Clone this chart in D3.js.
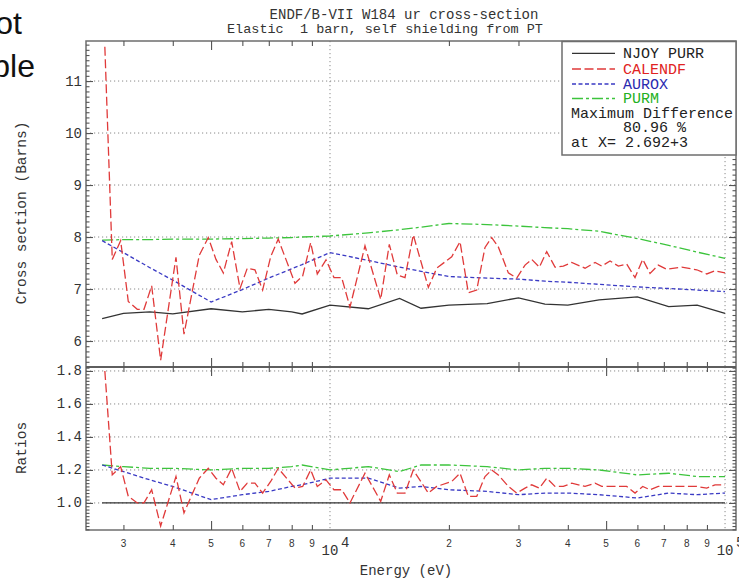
<!DOCTYPE html>
<html><head><meta charset="utf-8">
<script src="https://cdn.jsdelivr.net/npm/d3@7"></script>
<style>
html,body{margin:0;padding:0;background:#fff;}
svg{display:block;}
text{font-family:"Liberation Mono","DejaVu Sans Mono",monospace;fill:#333;}
</style></head><body>
<svg id="chart" width="739" height="580"></svg>
<script>
// Energy grid (eV) shared by NJOY PURR, AUROX and PURM
const energyGrid = [2650, 3000, 3500, 4000, 5000, 6000, 7000, 8000, 8500, 10000, 12500, 15000, 17000, 20000, 25000, 30000, 35000, 40000, 48000, 60000, 72000, 85000, 100000];
const njoyXs  = [6.43, 6.53, 6.56, 6.52, 6.62, 6.56, 6.61, 6.56, 6.52, 6.69, 6.62, 6.82, 6.63, 6.69, 6.72, 6.83, 6.71, 6.69, 6.79, 6.85, 6.66, 6.69, 6.53];
const auroxXs = [7.93, 7.70, 7.41, 7.17, 6.75, 6.99, 7.21, 7.39, 7.47, 7.70, 7.55, 7.42, 7.34, 7.24, 7.21, 7.19, 7.15, 7.13, 7.09, 7.04, 7.01, 6.98, 6.95];
const purmXs  = [7.94, 7.95, 7.95, 7.96, 7.96, 7.97, 7.98, 7.99, 8.00, 8.02, 8.08, 8.14, 8.19, 8.26, 8.24, 8.21, 8.18, 8.16, 8.11, 7.97, 7.84, 7.71, 7.59];
const njoyRatio  = [1, 1, 1, 1, 1, 1, 1, 1, 1, 1, 1, 1, 1, 1, 1, 1, 1, 1, 1, 1, 1, 1, 1];
const auroxRatio = [1.23, 1.19, 1.14, 1.10, 1.02, 1.05, 1.07, 1.10, 1.11, 1.15, 1.15, 1.09, 1.10, 1.08, 1.07, 1.05, 1.06, 1.06, 1.05, 1.03, 1.06, 1.05, 1.06];
const purmRatio  = [1.23, 1.22, 1.21, 1.21, 1.20, 1.21, 1.21, 1.22, 1.23, 1.20, 1.22, 1.19, 1.23, 1.23, 1.22, 1.20, 1.21, 1.21, 1.20, 1.17, 1.18, 1.16, 1.16];

// CALENDF has its own, finer energy grid
const calendfE = [2692, 2811, 2952, 3086, 3252, 3382, 3537, 3727, 4075, 4270,
  4668, 4920, 5145, 5370, 5638, 5920, 6175, 6457, 6753, 7077,
  7397, 8154, 8529, 8935, 9286, 9770, 10235, 10706, 11235, 12263,
  13440, 14130, 14806, 15484, 16251, 17741, 18629, 20331, 21337, 22395,
  23520, 24683, 25669, 26674, 28280, 29700, 31170, 32410, 33880, 35370,
  37120, 38960, 40920, 44220, 46880, 48740, 51160, 53700, 56380, 59180,
  61890, 64580, 67770, 71180, 77690, 84790, 89880, 94340, 100000];
const calendfXs = [11.66, 7.57, 7.93, 6.76, 6.61, 6.61, 7.06, 5.63, 7.61, 6.13,
  7.65, 7.99, 7.57, 7.31, 7.91, 7.01, 7.40, 7.37, 6.98, 7.62,
  7.96, 7.11, 7.25, 7.89, 7.29, 7.56, 7.22, 7.22, 6.65, 7.83,
  6.80, 7.86, 7.27, 7.22, 8.04, 7.03, 7.40, 7.62, 7.91, 6.93,
  6.98, 7.80, 7.99, 7.81, 7.31, 7.21, 7.46, 7.57, 7.42, 7.72,
  7.42, 7.44, 7.51, 7.40, 7.51, 7.44, 7.54, 7.44, 7.48, 7.22,
  7.57, 7.30, 7.46, 7.38, 7.42, 7.37, 7.29, 7.35, 7.31];
const calendfRatio = [1.80, 1.17, 1.22, 1.04, 1.00, 1.00, 1.08, 0.86, 1.16, 0.94,
  1.15, 1.21, 1.15, 1.11, 1.21, 1.07, 1.12, 1.12, 1.06, 1.13,
  1.21, 1.09, 1.10, 1.20, 1.10, 1.14, 1.08, 1.08, 1.00, 1.18,
  1.01, 1.17, 1.06, 1.06, 1.20, 1.06, 1.10, 1.13, 1.18, 1.04,
  1.04, 1.16, 1.20, 1.17, 1.10, 1.06, 1.09, 1.11, 1.09, 1.15,
  1.10, 1.10, 1.12, 1.10, 1.12, 1.10, 1.10, 1.10, 1.10, 1.06,
  1.10, 1.08, 1.10, 1.10, 1.10, 1.10, 1.09, 1.11, 1.11];

// Tick values and labels
const xMinorTicks = [3000, 4000, 6000, 7000, 8000, 9000, 20000, 30000, 40000, 60000, 70000, 80000, 90000];
const xMidTicks = [5000, 50000];
const xLabelValues = [3000, 4000, 5000, 6000, 7000, 8000, 9000, 20000, 30000, 40000, 50000, 60000, 70000, 80000, 90000];
const xLabelText = ["3", "4", "5", "6", "7", "8", "9", "2", "3", "4", "5", "6", "7", "8", "9"];
const xDecades = [10000, 100000];
const xDecadeExp = ["4", "5"];
const yUpperTicks = [6, 7, 8, 9, 10, 11];
const yLowerTicks = [1.0, 1.2, 1.4, 1.6, 1.8];
const yLowerText = ["1.0", "1.2", "1.4", "1.6", "1.8"];

const seriesNames = ["NJOY PURR", "CALENDF", "AUROX", "PURM"];
const lineColors = ["#333333", "#e03a3a", "#3a3ac4", "#3cc43c"];
const textColors = ["#222222", "#e02222", "#2a2ab0", "#22b022"];
const dashes = [null, "9,3.5", "4,2.5", "11,3,3,3"];

const svg = d3.select("#chart");
const L = 86, R = 736, T1 = 41, B1 = 367, T2 = 367, B2 = 530;
const x = d3.scaleLog().domain([2412, 106600]).range([L, R]);
const yU = d3.scaleLinear().domain([5.5, 11.77]).range([B1, T1]);
const yL = d3.scaleLinear().domain([0.836, 1.824]).range([B2, T2]);

const defs = svg.append("defs");
defs.append("clipPath").attr("id", "clipU").append("rect").attr("x", L).attr("y", T1).attr("width", R - L).attr("height", B1 - T1);
defs.append("clipPath").attr("id", "clipL").append("rect").attr("x", L).attr("y", T2).attr("width", R - L).attr("height", B2 - T2);

// slide text fragments at the top-left
svg.append("text").attr("x", 22).attr("y", 34).attr("text-anchor", "end")
  .style("font-family", "'Liberation Sans',Arial,sans-serif").style("font-size", "32px").style("fill", "#111").text("ot");
svg.append("text").attr("x", 35).attr("y", 77).attr("text-anchor", "end")
  .style("font-family", "'Liberation Sans',Arial,sans-serif").style("font-size", "32px").style("fill", "#111").text("ble");

// title
svg.append("text").attr("x", 404).attr("y", 19).attr("text-anchor", "middle").style("font-size", "14px")
  .text("ENDF/B-VII W184 ur cross-section");
svg.append("text").attr("x", 385).attr("y", 33).attr("text-anchor", "middle").style("font-size", "13.5px")
  .attr("xml:space", "preserve").style("white-space", "pre")
  .text("Elastic  1 barn, self shielding from PT");

// dotted grid
const grid = svg.append("g").attr("stroke", "#8a8a8a").attr("stroke-width", 1).attr("stroke-dasharray", "1.2,2.8").attr("fill", "none");
yUpperTicks.forEach(v => grid.append("line").attr("x1", L).attr("x2", R).attr("y1", yU(v)).attr("y2", yU(v)));
yLowerTicks.forEach(v => grid.append("line").attr("x1", L).attr("x2", R).attr("y1", yL(v)).attr("y2", yL(v)));
xDecades.forEach(v => {
  grid.append("line").attr("x1", x(v)).attr("x2", x(v)).attr("y1", T1).attr("y2", B1);
  grid.append("line").attr("x1", x(v)).attr("x2", x(v)).attr("y1", T2).attr("y2", B2);
});

// data lines
function drawSeries(g, es, vs, yScale, i) {
  const line = d3.line().x(d => x(d[0])).y(d => yScale(d[1]));
  g.append("path").datum(es.map((e, k) => [e, vs[k]]))
    .attr("d", line).attr("fill", "none").attr("stroke", lineColors[i])
    .attr("stroke-width", 1.3).attr("stroke-dasharray", dashes[i]);
}
const gU = svg.append("g").attr("clip-path", "url(#clipU)");
drawSeries(gU, energyGrid, njoyXs, yU, 0);
drawSeries(gU, energyGrid, purmXs, yU, 3);
drawSeries(gU, energyGrid, auroxXs, yU, 2);
drawSeries(gU, calendfE, calendfXs, yU, 1);
const gL = svg.append("g").attr("clip-path", "url(#clipL)");
drawSeries(gL, energyGrid, njoyRatio, yL, 0);
drawSeries(gL, energyGrid, purmRatio, yL, 3);
drawSeries(gL, energyGrid, auroxRatio, yL, 2);
drawSeries(gL, calendfE, calendfRatio, yL, 1);

// frames
svg.append("rect").attr("x", L).attr("y", T1).attr("width", R - L).attr("height", B2 - T1)
  .attr("fill", "none").attr("stroke", "#6e6e6e").attr("stroke-width", 1.5);
svg.append("line").attr("x1", L).attr("x2", R).attr("y1", B1).attr("y2", B1)
  .attr("stroke", "#5e5e5e").attr("stroke-width", 2.2);

// tick marks drawn with d3 axes
function ticks(axis, tx, ty) {
  const g = svg.append("g").attr("transform", `translate(${tx},${ty})`).call(axis);
  g.select(".domain").remove();
  g.selectAll("line").attr("stroke", "#555").attr("stroke-width", 1.1);
  g.selectAll("text").remove();
}
[[d3.axisBottom, T1], [d3.axisTop, B1], [d3.axisBottom, T2], [d3.axisTop, B2]].forEach(([ax, yy]) => {
  ticks(ax(x).tickValues(xMinorTicks).tickSize(5), 0, yy);
  ticks(ax(x).tickValues(xMidTicks).tickSize(9), 0, yy);
});
const yUMinor = d3.range(56, 118).map(v => v / 10);
const yLMinor = d3.range(42, 92).map(v => v / 50);
ticks(d3.axisRight(yU).tickValues(yUMinor).tickSize(3.5), L, 0);
ticks(d3.axisRight(yU).tickValues(yUpperTicks).tickSize(7), L, 0);
ticks(d3.axisLeft(yU).tickValues(yUMinor).tickSize(3.5), R, 0);
ticks(d3.axisLeft(yU).tickValues(yUpperTicks).tickSize(7), R, 0);
ticks(d3.axisRight(yL).tickValues(yLMinor).tickSize(3.5), L, 0);
ticks(d3.axisRight(yL).tickValues(yLowerTicks).tickSize(7), L, 0);
ticks(d3.axisLeft(yL).tickValues(yLMinor).tickSize(3.5), R, 0);
ticks(d3.axisLeft(yL).tickValues(yLowerTicks).tickSize(7), R, 0);

// tick labels
yUpperTicks.forEach(v => svg.append("text").attr("x", 82).attr("y", yU(v) + 4.5)
  .attr("text-anchor", "end").style("font-size", "14px").text(v));
yLowerTicks.forEach((v, i) => svg.append("text").attr("x", 82).attr("y", yL(v) + 4.5)
  .attr("text-anchor", "end").style("font-size", "14px").text(yLowerText[i]));
xLabelValues.forEach((v, i) => svg.append("text").attr("x", x(v)).attr("y", 546.5)
  .attr("text-anchor", "middle").style("font-family", "'Liberation Sans',Arial,sans-serif")
  .style("font-size", "10px").style("fill", "#333").text(xLabelText[i]));
xDecades.forEach((v, i) => {
  svg.append("text").attr("x", x(v)).attr("y", 555).attr("text-anchor", "middle").style("font-size", "14px").text("10");
  svg.append("text").attr("x", x(v) + 11).attr("y", 547).attr("text-anchor", "start").style("font-size", "14px").text(xDecadeExp[i]);
});

// axis titles
svg.append("text").attr("x", 406).attr("y", 575).attr("text-anchor", "middle").style("font-size", "14px").text("Energy (eV)");
svg.append("text").attr("transform", "translate(26,213) rotate(-90)").attr("text-anchor", "middle").style("font-size", "14.5px").text("Cross section (Barns)");
svg.append("text").attr("transform", "translate(26,448) rotate(-90)").attr("text-anchor", "middle").style("font-size", "14.5px").text("Ratios");

// legend
const leg = svg.append("g");
leg.append("rect").attr("x", 562).attr("y", 41.5).attr("width", 174).attr("height", 113.5)
  .attr("fill", "#fff").attr("stroke", "#6e6e6e").attr("stroke-width", 1.5);
const rowY = [53.3, 69, 84, 98.5];
seriesNames.forEach((name, i) => {
  leg.append("line").attr("x1", 572).attr("x2", 615).attr("y1", rowY[i]).attr("y2", rowY[i])
    .attr("stroke", lineColors[i]).attr("stroke-width", 1.3).attr("stroke-dasharray", dashes[i]);
  leg.append("text").attr("x", 623).attr("y", rowY[i] + 4.5).style("font-size", "15px")
    .style("fill", textColors[i]).text(name);
});
leg.append("text").attr("x", 571).attr("y", 117.5).style("font-size", "15px").style("fill", "#222").text("Maximum Difference");
leg.append("text").attr("x", 623).attr("y", 132).style("font-size", "15px").style("fill", "#222")
  .attr("xml:space", "preserve").style("white-space", "pre").text("80.96 %");
leg.append("text").attr("x", 571).attr("y", 147).style("font-size", "15px").style("fill", "#222")
  .attr("xml:space", "preserve").style("white-space", "pre").text("at X= 2.692+3");
</script>
</body></html>
